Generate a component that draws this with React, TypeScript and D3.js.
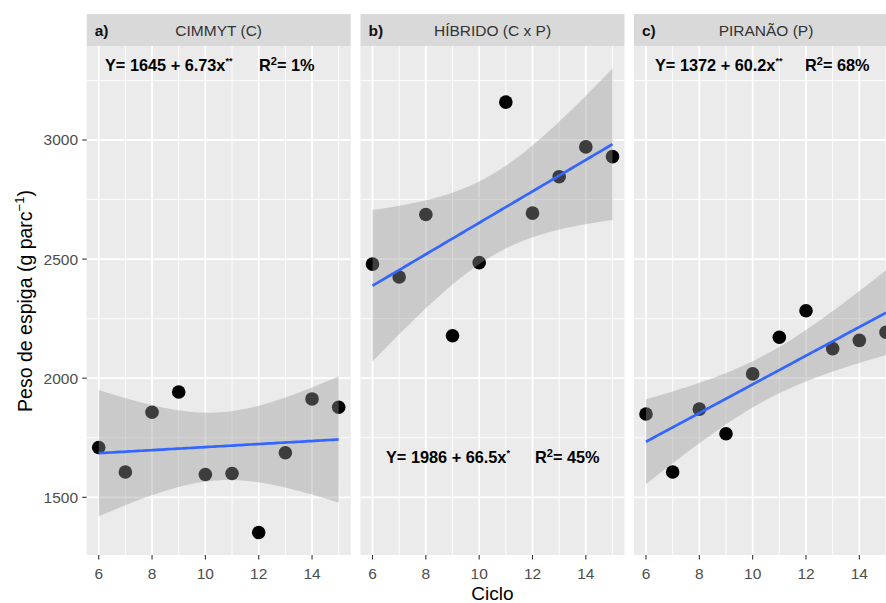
import React from "react";
import * as d3 from "d3";

const ciclos = [6, 7, 8, 9, 10, 11, 12, 13, 14, 15];
const cimmyt = [1709, 1606, 1857, 1942, 1596, 1600, 1352, 1687, 1913, 1878];
const hibrido = [2479, 2425, 2687, 2178, 2485, 3159, 2693, 2846, 2971, 2930];
const piranao = [1850, 1606, 1870, 1767, 2018, 2172, 2283, 2124, 2159, 2193];

const panelLetters = ["a)", "b)", "c)"];
const panelTitles = ["CIMMYT (C)", "HÍBRIDO (C x P)", "PIRANÃO (P)"];
const equations = ["Y= 1645 + 6.73x", "Y= 1986 + 66.5x", "Y= 1372 + 60.2x"];
const signif = ["**", "*", "**"];
const r2Values = ["1%", "45%", "68%"];
const seriesList = [cimmyt, hibrido, piranao];

const xTicks = [6, 8, 10, 12, 14];
const xMinor = [7, 9, 11, 13, 15];
const yTicks = [1500, 2000, 2500, 3000];
const yMinor = [1750, 2250, 2750, 3250];

const W = 886;
const H = 603;
const panelLefts = [86.7, 360.5, 634];
const panelW = 264;
const panelTop = 46;
const panelBottom = 555;
const stripTop = 14;
// equation placement: [dx from panel left, baseline y, dx of R2 from panel left]
const eqPos = [
  [18.3, 71, 172.3],
  [25.5, 463, 174.5],
  [21, 71, 171],
];

const FONT = "'Liberation Sans', Arial, Helvetica, sans-serif";

function fit(xs: number[], ys: number[]) {
  const n = xs.length;
  const xbar = d3.mean(xs)!;
  const ybar = d3.mean(ys)!;
  let sxx = 0, sxy = 0;
  xs.forEach((x, i) => {
    sxx += (x - xbar) ** 2;
    sxy += (x - xbar) * (ys[i] - ybar);
  });
  const b = sxy / sxx;
  const a = ybar - b * xbar;
  let sse = 0;
  xs.forEach((x, i) => {
    sse += (ys[i] - (a + b * x)) ** 2;
  });
  const s = Math.sqrt(sse / (n - 2));
  const t = 2.306; // t(0.975, df = 8)
  const ci = (x: number) => t * s * Math.sqrt(1 / n + (x - xbar) ** 2 / sxx);
  return { a, b, ci };
}

export default function App() {
  const y = d3.scaleLinear().domain([1257.8, 3394.6]).range([panelBottom, panelTop]);
  const xExtent = d3.extent(ciclos) as [number, number];
  const grid = d3.range(0, 80).map((i) => xExtent[0] + ((xExtent[1] - xExtent[0]) * i) / 79);

  return (
    <svg
      width={W}
      height={H}
      style={{ position: "absolute", left: 0, top: 0, background: "#fff" }}
      fontFamily={FONT}
    >
      <rect x={0} y={0} width={W} height={H} fill="#fff" />
      {seriesList.map((vals, p) => {
        const left = panelLefts[p];
        const x = d3.scaleLinear().domain([5.55, 15.45]).range([left, left + panelW]);
        const f = fit(ciclos, vals);
        const area = d3
          .area<number>()
          .x((d) => x(d))
          .y0((d) => y(f.a + f.b * d - f.ci(d)))
          .y1((d) => y(f.a + f.b * d + f.ci(d)));
        const line = d3
          .line<number>()
          .x((d) => x(d))
          .y((d) => y(f.a + f.b * d));
        const clipId = `clip${p}`;
        return (
          <g key={p}>
            <defs>
              <clipPath id={clipId}>
                <rect x={left} y={panelTop} width={panelW} height={panelBottom - panelTop} />
              </clipPath>
            </defs>
            {/* strip */}
            <rect x={left} y={stripTop} width={panelW} height={panelTop - stripTop} fill="#d9d9d9" />
            <text x={left + 8} y={35.5} fontSize={15.5} fontWeight="bold" fill="#111">
              {panelLetters[p]}
            </text>
            <text x={left + panelW / 2} y={35.5} fontSize={15.5} fill="#333" textAnchor="middle">
              {panelTitles[p]}
            </text>
            {/* panel */}
            <rect x={left} y={panelTop} width={panelW} height={panelBottom - panelTop} fill="#ebebeb" />
            <g clipPath={`url(#${clipId})`}>
              {yMinor.map((v) => (
                <line key={"ym" + v} x1={left} x2={left + panelW} y1={y(v)} y2={y(v)} stroke="#fff" strokeWidth={0.9} />
              ))}
              {xMinor.map((v) => (
                <line key={"xm" + v} x1={x(v)} x2={x(v)} y1={panelTop} y2={panelBottom} stroke="#fff" strokeWidth={0.9} />
              ))}
              {yTicks.map((v) => (
                <line key={"yM" + v} x1={left} x2={left + panelW} y1={y(v)} y2={y(v)} stroke="#fff" strokeWidth={1.8} />
              ))}
              {xTicks.map((v) => (
                <line key={"xM" + v} x1={x(v)} x2={x(v)} y1={panelTop} y2={panelBottom} stroke="#fff" strokeWidth={1.8} />
              ))}
              {vals.map((v, i) => (
                <circle key={"pt" + i} cx={x(ciclos[i])} cy={y(v)} r={6.8} fill="#000" />
              ))}
              <path d={area(grid)!} fill="#999999" fillOpacity={0.4} />
              <path d={line(grid)!} fill="none" stroke="#3366FF" strokeWidth={2.7} />
            </g>
            {/* equation */}
            <text x={left + eqPos[p][0]} y={eqPos[p][1]} fontSize={16.3} fontWeight="bold" fill="#000">
              {equations[p]}
              <tspan fontSize={9} dy={-7}>{signif[p]}</tspan>
            </text>
            <text x={left + eqPos[p][2]} y={eqPos[p][1]} fontSize={16.3} fontWeight="bold" fill="#000">
              R<tspan fontSize={11} dy={-6}>2</tspan>
              <tspan dy={6}>{"= " + r2Values[p]}</tspan>
            </text>
            {/* x axis */}
            {xTicks.map((v) => (
              <g key={"xt" + v}>
                <line x1={x(v)} x2={x(v)} y1={panelBottom} y2={panelBottom + 4.5} stroke="#333" strokeWidth={1.1} />
                <text x={x(v)} y={579} fontSize={15.5} fill="#4d4d4d" textAnchor="middle">
                  {v}
                </text>
              </g>
            ))}
          </g>
        );
      })}
      {/* y axis */}
      {yTicks.map((v) => (
        <g key={"yt" + v}>
          <line x1={panelLefts[0] - 4.5} x2={panelLefts[0]} y1={y(v)} y2={y(v)} stroke="#333" strokeWidth={1.1} />
          <text x={78} y={y(v) + 5.5} fontSize={15.5} fill="#4d4d4d" textAnchor="end">
            {v}
          </text>
        </g>
      ))}
      <text transform="translate(32,301) rotate(-90)" fontSize={19.5} fill="#000" textAnchor="middle">
        Peso de espiga (g parc
        <tspan fontSize={13} dy={-8}>−1</tspan>
        <tspan dy={8}>)</tspan>
      </text>
      <text x={(panelLefts[0] + panelLefts[2] + panelW) / 2} y={600} fontSize={19} fill="#000" textAnchor="middle">
        Ciclo
      </text>
    </svg>
  );
}
